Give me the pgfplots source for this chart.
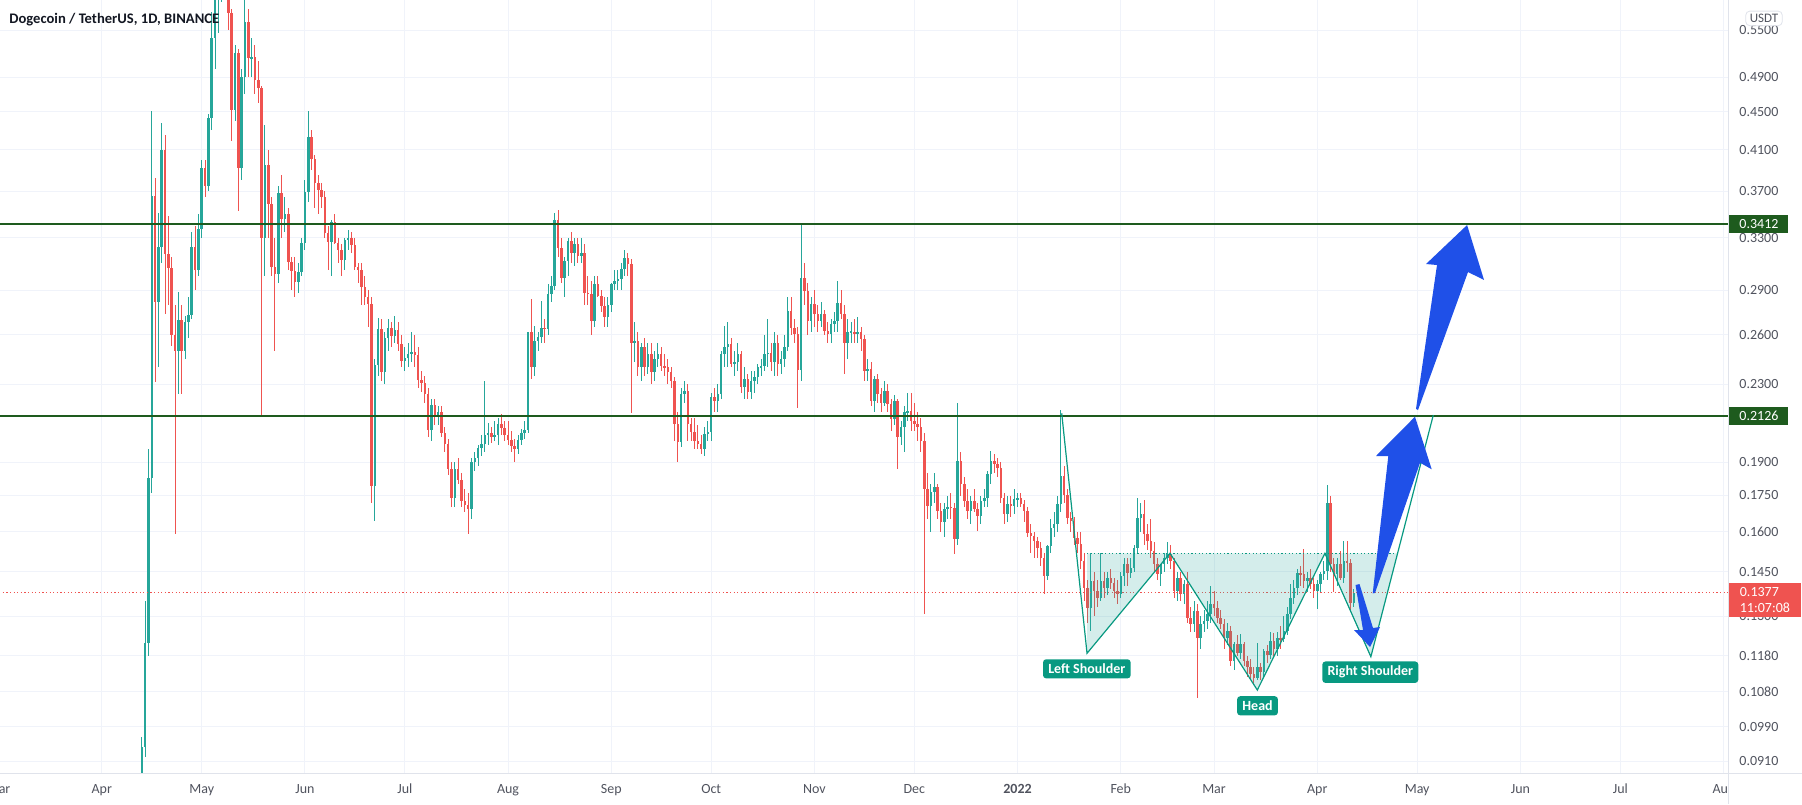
\documentclass[border=0pt]{standalone}
\usepackage{pgfplots}
\pgfplotsset{compat=1.18}
\usepackage{pgfplotstable}
\usepackage{fontspec}
\setmainfont{Carlito}
\definecolor{upc}{HTML}{26A69A}
\definecolor{dnc}{HTML}{EF5350}
\definecolor{lvl}{HTML}{1E5B1E}
\definecolor{gridc}{HTML}{F0F3FA}
\definecolor{axc}{HTML}{E0E3EB}
\definecolor{tickc}{HTML}{50535E}
\definecolor{patc}{HTML}{089981}
\definecolor{arrc}{HTML}{1F50E8}
\definecolor{titc}{HTML}{131722}

\pgfplotstableread{
d o h l c
12 0.0820 0.0965 0.0800 0.0942
13 0.0942 0.1350 0.0920 0.1217
14 0.1217 0.1960 0.1180 0.1827
15 0.1827 0.4505 0.1760 0.3658
16 0.3658 0.3827 0.2312 0.2815
17 0.2815 0.3510 0.2400 0.3227
18 0.3227 0.4376 0.3100 0.4096
19 0.4096 0.4250 0.2736 0.3170
20 0.3170 0.3480 0.2800 0.3060
21 0.3060 0.3150 0.2530 0.2600
22 0.2600 0.2800 0.1593 0.2498
23 0.2498 0.2890 0.2248 0.2693
24 0.2693 0.2800 0.2245 0.2498
25 0.2498 0.2720 0.2450 0.2681
26 0.2681 0.2850 0.2580 0.2730
27 0.2730 0.3350 0.2700 0.3227
28 0.3227 0.3400 0.2900 0.3047
29 0.3047 0.3500 0.3000 0.3370
30 0.3370 0.4000 0.3300 0.3920
31 0.3920 0.4000 0.3650 0.3750
32 0.3750 0.4480 0.3700 0.4428
33 0.4428 0.5750 0.4300 0.5390
34 0.5390 0.6300 0.5000 0.6000
35 0.6000 0.6600 0.5460 0.6200
36 0.6200 0.7000 0.5900 0.6800
37 0.6800 0.7400 0.6000 0.6600
38 0.6600 0.6700 0.5500 0.5735
39 0.5735 0.5800 0.4190 0.4520
40 0.4520 0.5300 0.4400 0.5200
41 0.5200 0.5250 0.3525 0.3920
42 0.3920 0.5000 0.3800 0.4905
43 0.4905 0.5930 0.4700 0.5616
44 0.5616 0.5800 0.4900 0.5131
45 0.5131 0.5400 0.4900 0.5153
46 0.5153 0.5300 0.4700 0.4866
47 0.4866 0.5100 0.4600 0.4767
48 0.4767 0.4800 0.2130 0.3295
49 0.3295 0.4360 0.3000 0.3950
50 0.3950 0.4100 0.3300 0.3590
51 0.3590 0.3650 0.3000 0.3070
52 0.3070 0.3300 0.2500 0.3020
53 0.3020 0.3750 0.2950 0.3685
54 0.3685 0.3850 0.3300 0.3460
55 0.3460 0.3650 0.3350 0.3500
56 0.3500 0.3550 0.3050 0.3110
57 0.3110 0.3150 0.2900 0.3040
58 0.3040 0.3150 0.2850 0.2960
59 0.2960 0.3100 0.2880 0.3030
60 0.3030 0.3300 0.3000 0.3255
61 0.3255 0.3800 0.3200 0.3696
62 0.3696 0.4505 0.3600 0.4232
63 0.4232 0.4300 0.3900 0.4010
64 0.4010 0.4050 0.3550 0.3773
65 0.3773 0.3850 0.3500 0.3711
66 0.3711 0.3780 0.3550 0.3650
67 0.3650 0.3700 0.3300 0.3336
68 0.3336 0.3400 0.3050 0.3268
69 0.3268 0.3450 0.3000 0.3433
70 0.3433 0.3500 0.3250 0.3255
71 0.3255 0.3300 0.3100 0.3202
72 0.3202 0.3250 0.3000 0.3124
73 0.3124 0.3300 0.3050 0.3282
74 0.3282 0.3360 0.3200 0.3300
75 0.3300 0.3350 0.3180 0.3241
76 0.3241 0.3300 0.3050 0.3073
77 0.3073 0.3100 0.2950 0.3048
78 0.3048 0.3100 0.2800 0.2925
79 0.2925 0.3000 0.2800 0.2854
80 0.2854 0.2900 0.2650 0.2802
81 0.2802 0.2850 0.1720 0.1790
82 0.1790 0.2450 0.1644 0.2412
83 0.2412 0.2710 0.2350 0.2634
84 0.2634 0.2700 0.2320 0.2374
85 0.2374 0.2620 0.2300 0.2577
86 0.2577 0.2700 0.2500 0.2645
87 0.2645 0.2680 0.2520 0.2594
88 0.2594 0.2720 0.2550 0.2630
89 0.2630 0.2680 0.2500 0.2538
90 0.2538 0.2600 0.2400 0.2435
91 0.2435 0.2520 0.2380 0.2455
92 0.2455 0.2550 0.2400 0.2477
93 0.2477 0.2620 0.2430 0.2490
94 0.2490 0.2600 0.2400 0.2470
95 0.2470 0.2520 0.2280 0.2326
96 0.2326 0.2380 0.2260 0.2306
97 0.2306 0.2350 0.2200 0.2248
98 0.2248 0.2280 0.2020 0.2058
99 0.2058 0.2220 0.2000 0.2189
100 0.2189 0.2220 0.2080 0.2131
101 0.2131 0.2180 0.2080 0.2150
102 0.2150 0.2180 0.2020 0.2040
103 0.2040 0.2070 0.1950 0.1985
104 0.1985 0.2010 0.1840 0.1867
105 0.1867 0.1900 0.1700 0.1740
106 0.1740 0.1900 0.1700 0.1867
107 0.1867 0.1920 0.1800 0.1820
108 0.1820 0.1850 0.1700 0.1725
109 0.1725 0.1780 0.1680 0.1708
110 0.1708 0.1760 0.1593 0.1694
111 0.1694 0.1920 0.1650 0.1901
112 0.1901 0.1950 0.1860 0.1917
113 0.1917 0.1980 0.1880 0.1969
114 0.1969 0.2030 0.1930 0.1986
115 0.1986 0.2320 0.1950 0.2030
116 0.2030 0.2090 0.1980 0.2039
117 0.2039 0.2070 0.1990 0.2021
118 0.2021 0.2100 0.2000 0.2030
119 0.2030 0.2120 0.1980 0.2085
120 0.2085 0.2140 0.2030 0.2067
121 0.2067 0.2100 0.2000 0.2030
122 0.2030 0.2100 0.1980 0.2004
123 0.2004 0.2050 0.1950 0.1975
124 0.1975 0.2010 0.1900 0.1960
125 0.1960 0.2030 0.1940 0.2004
126 0.2004 0.2060 0.1980 0.2039
127 0.2039 0.2100 0.2010 0.2058
128 0.2058 0.2620 0.2040 0.2614
129 0.2614 0.2837 0.2330 0.2400
130 0.2400 0.2657 0.2350 0.2561
131 0.2561 0.2620 0.2500 0.2582
132 0.2582 0.2826 0.2550 0.2646
133 0.2646 0.2700 0.2550 0.2635
134 0.2635 0.2944 0.2600 0.2872
135 0.2872 0.3000 0.2820 0.2932
136 0.2932 0.3510 0.2900 0.3450
137 0.3450 0.3530 0.3150 0.3222
138 0.3222 0.3300 0.2950 0.2992
139 0.2992 0.3150 0.2850 0.3118
140 0.3118 0.3300 0.3000 0.3275
141 0.3275 0.3350 0.3100 0.3182
142 0.3182 0.3300 0.3080 0.3250
143 0.3250 0.3300 0.3100 0.3156
144 0.3156 0.3300 0.3100 0.3182
145 0.3182 0.3250 0.2800 0.2884
146 0.2884 0.3000 0.2800 0.2872
147 0.2872 0.2970 0.2600 0.2690
148 0.2690 0.3000 0.2650 0.2944
149 0.2944 0.3000 0.2850 0.2861
150 0.2861 0.2900 0.2750 0.2791
151 0.2791 0.2850 0.2650 0.2712
152 0.2712 0.2850 0.2650 0.2800
153 0.2800 0.2950 0.2750 0.2944
154 0.2944 0.3050 0.2900 0.2968
155 0.2968 0.3050 0.2900 0.2980
156 0.2980 0.3100 0.2900 0.3054
157 0.3054 0.3200 0.3000 0.3143
158 0.3143 0.3180 0.3000 0.3092
159 0.3092 0.3130 0.2143 0.2550
160 0.2550 0.2680 0.2430 0.2561
161 0.2561 0.2620 0.2350 0.2398
162 0.2398 0.2550 0.2320 0.2519
163 0.2519 0.2580 0.2350 0.2398
164 0.2398 0.2550 0.2360 0.2478
165 0.2478 0.2550 0.2300 0.2369
166 0.2369 0.2500 0.2320 0.2448
167 0.2448 0.2550 0.2400 0.2478
168 0.2478 0.2520 0.2380 0.2408
169 0.2408 0.2480 0.2350 0.2398
170 0.2398 0.2450 0.2300 0.2369
171 0.2369 0.2400 0.2280 0.2321
172 0.2321 0.2340 0.2000 0.2086
173 0.2086 0.2150 0.1900 0.1994
174 0.1994 0.2280 0.1970 0.2246
175 0.2246 0.2320 0.2200 0.2264
176 0.2264 0.2300 0.2000 0.2086
177 0.2086 0.2120 0.2000 0.2044
178 0.2044 0.2120 0.1960 0.2002
179 0.2002 0.2080 0.1960 0.1986
180 0.1986 0.2030 0.1940 0.1962
181 0.1962 0.2070 0.1930 0.2035
182 0.2035 0.2100 0.2000 0.2044
183 0.2044 0.2250 0.2000 0.2228
184 0.2228 0.2280 0.2150 0.2209
185 0.2209 0.2300 0.2150 0.2246
186 0.2246 0.2500 0.2220 0.2478
187 0.2478 0.2657 0.2400 0.2519
188 0.2519 0.2680 0.2400 0.2540
189 0.2540 0.2580 0.2400 0.2418
190 0.2418 0.2500 0.2350 0.2428
191 0.2428 0.2550 0.2380 0.2478
192 0.2478 0.2500 0.2250 0.2283
193 0.2283 0.2400 0.2220 0.2330
194 0.2330 0.2360 0.2220 0.2255
195 0.2255 0.2380 0.2220 0.2321
196 0.2321 0.2380 0.2250 0.2340
197 0.2340 0.2420 0.2300 0.2398
198 0.2398 0.2450 0.2350 0.2408
199 0.2408 0.2600 0.2380 0.2478
200 0.2478 0.2700 0.2400 0.2488
201 0.2488 0.2550 0.2380 0.2428
202 0.2428 0.2620 0.2350 0.2550
203 0.2550 0.2600 0.2350 0.2418
204 0.2418 0.2500 0.2360 0.2448
205 0.2448 0.2600 0.2400 0.2519
206 0.2519 0.2849 0.2500 0.2757
207 0.2757 0.2850 0.2600 0.2646
208 0.2646 0.2700 0.2550 0.2603
209 0.2603 0.2650 0.2173 0.2383
210 0.2383 0.3412 0.2320 0.2992
211 0.2992 0.3100 0.2800 0.2896
212 0.2896 0.2950 0.2600 0.2690
213 0.2690 0.2850 0.2620 0.2802
214 0.2802 0.2900 0.2650 0.2734
215 0.2734 0.2800 0.2620 0.2690
216 0.2690 0.2820 0.2650 0.2734
217 0.2734 0.2760 0.2600 0.2624
218 0.2624 0.2680 0.2550 0.2603
219 0.2603 0.2700 0.2550 0.2668
220 0.2668 0.2750 0.2620 0.2690
221 0.2690 0.2968 0.2620 0.2814
222 0.2814 0.2900 0.2700 0.2734
223 0.2734 0.2800 0.2359 0.2550
224 0.2550 0.2700 0.2450 0.2614
225 0.2614 0.2680 0.2550 0.2620
226 0.2620 0.2700 0.2550 0.2603
227 0.2603 0.2712 0.2550 0.2614
228 0.2614 0.2650 0.2500 0.2571
229 0.2571 0.2600 0.2320 0.2379
230 0.2379 0.2450 0.2320 0.2388
231 0.2388 0.2430 0.2180 0.2210
232 0.2210 0.2350 0.2150 0.2330
233 0.2330 0.2360 0.2200 0.2246
234 0.2246 0.2280 0.2150 0.2200
235 0.2200 0.2320 0.2180 0.2264
236 0.2264 0.2300 0.2150 0.2191
237 0.2191 0.2220 0.2050 0.2112
238 0.2112 0.2240 0.2080 0.2209
239 0.2209 0.2220 0.1867 0.2019
240 0.2019 0.2100 0.1980 0.2069
241 0.2069 0.2180 0.1950 0.2147
242 0.2147 0.2250 0.2100 0.2155
243 0.2155 0.2250 0.2050 0.2103
244 0.2103 0.2200 0.2050 0.2086
245 0.2086 0.2150 0.2000 0.2069
246 0.2069 0.2120 0.1950 0.2002
247 0.2002 0.2040 0.1307 0.1778
248 0.1778 0.1850 0.1650 0.1706
249 0.1706 0.1800 0.1600 0.1763
250 0.1763 0.1850 0.1720 0.1785
251 0.1785 0.1800 0.1650 0.1685
252 0.1685 0.1720 0.1600 0.1638
253 0.1638 0.1720 0.1580 0.1692
254 0.1692 0.1750 0.1650 0.1700
255 0.1700 0.1760 0.1650 0.1699
256 0.1699 0.1720 0.1515 0.1572
257 0.1572 0.2197 0.1550 0.1905
258 0.1905 0.1950 0.1750 0.1799
259 0.1799 0.1830 0.1700 0.1726
260 0.1726 0.1780 0.1650 0.1684
261 0.1684 0.1750 0.1630 0.1726
262 0.1726 0.1780 0.1680 0.1691
263 0.1691 0.1720 0.1603 0.1664
264 0.1664 0.1750 0.1630 0.1726
265 0.1726 0.1780 0.1700 0.1740
266 0.1740 0.1860 0.1700 0.1843
267 0.1843 0.1952 0.1800 0.1905
268 0.1905 0.1940 0.1850 0.1889
269 0.1889 0.1920 0.1830 0.1874
270 0.1874 0.1900 0.1720 0.1740
271 0.1740 0.1760 0.1630 0.1670
272 0.1670 0.1750 0.1640 0.1712
273 0.1712 0.1750 0.1660 0.1705
274 0.1705 0.1780 0.1670 0.1733
275 0.1733 0.1760 0.1700 0.1740
276 0.1740 0.1760 0.1700 0.1712
277 0.1712 0.1730 0.1640 0.1684
278 0.1684 0.1700 0.1580 0.1597
279 0.1597 0.1630 0.1520 0.1583
280 0.1583 0.1600 0.1500 0.1564
281 0.1564 0.1580 0.1500 0.1539
282 0.1539 0.1560 0.1470 0.1502
283 0.1502 0.1520 0.1372 0.1435
284 0.1435 0.1550 0.1420 0.1545
285 0.1545 0.1650 0.1520 0.1617
286 0.1617 0.1680 0.1580 0.1630
287 0.1630 0.1750 0.1600 0.1712
288 0.1712 0.2160 0.1680 0.1836
289 0.1836 0.1880 0.1720 0.1754
290 0.1754 0.1780 0.1630 0.1657
291 0.1657 0.1680 0.1600 0.1643
292 0.1643 0.1660 0.1550 0.1577
293 0.1577 0.1600 0.1520 0.1555
294 0.1555 0.1600 0.1460 0.1489
295 0.1489 0.1520 0.1350 0.1395
296 0.1395 0.1420 0.1280 0.1328
297 0.1328 0.1520 0.1253 0.1418
298 0.1418 0.1450 0.1300 0.1383
299 0.1383 0.1420 0.1330 0.1361
300 0.1361 0.1520 0.1350 0.1418
301 0.1418 0.1450 0.1360 0.1395
302 0.1395 0.1450 0.1370 0.1429
303 0.1429 0.1460 0.1390 0.1412
304 0.1412 0.1430 0.1360 0.1383
305 0.1383 0.1420 0.1340 0.1372
306 0.1372 0.1450 0.1360 0.1435
307 0.1435 0.1500 0.1400 0.1477
308 0.1477 0.1500 0.1400 0.1447
309 0.1447 0.1500 0.1430 0.1465
310 0.1465 0.1550 0.1450 0.1539
311 0.1539 0.1740 0.1520 0.1657
312 0.1657 0.1720 0.1600 0.1670
313 0.1670 0.1730 0.1550 0.1590
314 0.1590 0.1630 0.1530 0.1564
315 0.1564 0.1650 0.1500 0.1526
316 0.1526 0.1560 0.1450 0.1477
317 0.1477 0.1500 0.1420 0.1441
318 0.1441 0.1480 0.1400 0.1477
319 0.1477 0.1520 0.1450 0.1502
320 0.1502 0.1560 0.1480 0.1514
321 0.1514 0.1550 0.1460 0.1489
322 0.1489 0.1500 0.1360 0.1383
323 0.1383 0.1450 0.1350 0.1429
324 0.1429 0.1450 0.1350 0.1372
325 0.1372 0.1420 0.1340 0.1406
326 0.1406 0.1450 0.1280 0.1295
327 0.1295 0.1330 0.1250 0.1274
328 0.1274 0.1350 0.1250 0.1317
329 0.1317 0.1340 0.1064 0.1233
330 0.1233 0.1300 0.1200 0.1274
331 0.1274 0.1320 0.1250 0.1285
332 0.1285 0.1350 0.1260 0.1306
333 0.1306 0.1400 0.1280 0.1339
334 0.1339 0.1383 0.1300 0.1328
335 0.1328 0.1350 0.1280 0.1295
336 0.1295 0.1320 0.1260 0.1274
337 0.1274 0.1290 0.1200 0.1233
338 0.1233 0.1280 0.1210 0.1253
339 0.1253 0.1270 0.1150 0.1164
340 0.1164 0.1220 0.1140 0.1213
341 0.1213 0.1240 0.1180 0.1188
342 0.1188 0.1244 0.1170 0.1213
343 0.1213 0.1220 0.1150 0.1164
344 0.1164 0.1180 0.1120 0.1146
345 0.1146 0.1170 0.1110 0.1127
346 0.1127 0.1146 0.1100 0.1118
347 0.1118 0.1218 0.1110 0.1146
348 0.1146 0.1160 0.1110 0.1132
349 0.1132 0.1200 0.1120 0.1193
350 0.1193 0.1210 0.1160 0.1183
351 0.1183 0.1250 0.1170 0.1223
352 0.1223 0.1248 0.1180 0.1198
353 0.1198 0.1250 0.1180 0.1233
354 0.1233 0.1270 0.1200 0.1228
355 0.1228 0.1300 0.1220 0.1253
356 0.1253 0.1330 0.1240 0.1306
357 0.1306 0.1406 0.1290 0.1361
358 0.1361 0.1420 0.1340 0.1395
359 0.1395 0.1460 0.1370 0.1447
360 0.1447 0.1470 0.1400 0.1441
361 0.1441 0.1533 0.1395 0.1418
362 0.1418 0.1450 0.1380 0.1429
363 0.1429 0.1460 0.1390 0.1406
364 0.1406 0.1430 0.1360 0.1383
365 0.1383 0.1420 0.1322 0.1406
366 0.1406 0.1450 0.1380 0.1441
367 0.1441 0.1490 0.1420 0.1453
368 0.1453 0.1798 0.1420 0.1719
369 0.1719 0.1747 0.1450 0.1477
370 0.1477 0.1500 0.1380 0.1441
371 0.1441 0.1500 0.1400 0.1477
372 0.1477 0.1526 0.1420 0.1429
373 0.1429 0.1564 0.1410 0.1489
374 0.1489 0.1564 0.1450 0.1482
375 0.1482 0.1495 0.1320 0.1343
376 0.1343 0.1390 0.1330 0.1377
}\candles

\pgfplotsset{
  tvaxis/.style={
    at={(-4.045pt,0pt)}, anchor=north west,
    scale only axis, width=868.045pt, height=386.5pt,
    xmin=-33, xmax=488.35, ymin=-2.42603, ymax=-0.5235,
    axis line style={draw=none}, tick style={draw=none},
    ytick={-2.39690,-2.31264,-2.22562,-2.13707,-2.04022,-1.93102,-1.83258,-1.74297,-1.66073,-1.46968,-1.34707,-1.23787,-1.10866,-0.99425,-0.89160,-0.79851,-0.71335,-0.59784},
  },
  wick/.style={draw=none, no markers, forget plot,
    error bars/.cd, y dir=both, y explicit, error mark=none,
    error bar style={draw=#1, line width=0.5pt}},
  body/.style={draw=none, no markers, forget plot,
    error bars/.cd, y dir=both, y explicit, error mark=none,
    error bar style={draw=#1, line width=1.25pt}},
}

\begin{document}
\begin{tikzpicture}[x=1pt,y=1pt]
\useasboundingbox (0,0) rectangle (901,-402);
\begin{axis}[tvaxis,
  xtick={-31,0,30,61,91,122,153,183,214,244,275,306,334,365,395,426,456,487},
  xticklabels={Mar,Apr,May,Jun,Jul,Aug,Sep,Oct,Nov,Dec,\textbf{2022},Feb,Mar,Apr,May,Jun,Jul,Aug},
  xticklabel style={anchor=base, yshift=-10pt, inner sep=0pt, font=\fontsize{7}{8}\selectfont, text=tickc},
  yticklabel=\empty,
  grid=major, major grid style={draw=gridc, line width=0.5pt},
]
% wicks
\addplot[wick=upc] table[x=d,
  y expr={\thisrow{c}>=\thisrow{o} ? 0.5*(ln(\thisrow{h})+ln(\thisrow{l})) : nan},
  y error expr={0.5*(ln(\thisrow{h})-ln(\thisrow{l}))}] {\candles};
\addplot[wick=dnc] table[x=d,
  y expr={\thisrow{c}<\thisrow{o} ? 0.5*(ln(\thisrow{h})+ln(\thisrow{l})) : nan},
  y error expr={0.5*(ln(\thisrow{h})-ln(\thisrow{l}))}] {\candles};
% bodies
\addplot[body=upc] table[x=d,
  y expr={\thisrow{c}>=\thisrow{o} ? 0.5*(ln(\thisrow{o})+ln(\thisrow{c})) : nan},
  y error expr={max(0.5*abs(ln(\thisrow{c})-ln(\thisrow{o})),0.0015)}] {\candles};
\addplot[body=dnc] table[x=d,
  y expr={\thisrow{c}<\thisrow{o} ? 0.5*(ln(\thisrow{o})+ln(\thisrow{c})) : nan},
  y error expr={max(0.5*abs(ln(\thisrow{c})-ln(\thisrow{o})),0.0015)}] {\candles};

% horizontal levels
\addplot[forget plot, lvl, line width=1pt] coordinates {(-33,-1.07529) (488.35,-1.07529)};
\addplot[forget plot, lvl, line width=1pt] coordinates {(-33,-1.54835) (488.35,-1.54835)};
\addplot[forget plot, dnc, line width=0.5pt, dash pattern=on 0.6pt off 1.2pt] coordinates {(-33,-1.98269) (488.35,-1.98269)};

% head and shoulders
\fill[upc, fill opacity=0.2] (axis cs:295.86,-1.8853) -- (axis cs:295.86,-2.1314) -- (axis cs:320.78,-1.8853) -- cycle;
\fill[upc, fill opacity=0.2] (axis cs:320.78,-1.8853) -- (axis cs:347.0,-2.2218) -- (axis cs:367.3,-1.8853) -- cycle;
\fill[upc, fill opacity=0.2] (axis cs:367.3,-1.8853) -- (axis cs:381.1,-2.1398) -- (axis cs:389.1,-1.8853) -- cycle;
\addplot[forget plot, patc, line width=0.5pt, dash pattern=on 0.6pt off 1.2pt] coordinates {(295.86,-1.8853) (389.1,-1.8853)};
\addplot[forget plot, patc, line width=0.6pt] coordinates {(288.26,-1.5407) (295.86,-2.1314) (320.78,-1.8853) (347.0,-2.2218) (367.3,-1.8853) (381.1,-2.1398) (399.85,-1.5449)};

% arrows
\fill[arrc] (axis cs:394.65,-1.5301) -- (axis cs:400.96,-1.1757) -- (axis cs:397.66,-1.1733) -- (axis cs:410.0,-1.0773) -- (axis cs:415.08,-1.2126) -- (axis cs:410.27,-1.1930) -- (axis cs:395.26,-1.5326) -- cycle;
\fill[arrc] (axis cs:381.65,-1.9838) -- (axis cs:386.34,-1.6458) -- (axis cs:382.64,-1.6458) -- (axis cs:394.35,-1.5491) -- (axis cs:399.37,-1.6786) -- (axis cs:395.86,-1.6623) -- (axis cs:382.34,-1.9830) -- cycle;
\fill[arrc] (axis cs:376.49,-1.9633) -- (axis cs:377.69,-1.9609) -- (axis cs:381.74,-2.0692) -- (axis cs:383.84,-2.0667) -- (axis cs:380.84,-2.1159) -- (axis cs:376.04,-2.0741) -- (axis cs:378.74,-2.0741) -- cycle;

% labels
\tikzset{hslab/.style={fill=patc, text=white, font=\bfseries\fontsize{7}{8}\selectfont, rounded corners=1.5pt, inner xsep=2.6pt, inner ysep=2.3pt}}
\node[hslab] at (axis cs:295.8,-2.1696) {Left Shoulder};
\node[hslab] at (axis cs:347.06,-2.2606) {Head};
\node[hslab] at (axis cs:380.93,-2.1779) {Right Shoulder};
\end{axis}

% right price panel
\fill[white] (864.25,1) rectangle (902,-403);
\begin{axis}[tvaxis,
  xtick=\empty,
  yticklabel pos=right,
  yticklabels={0.0910,0.0990,0.1080,0.1180,0.1300,0.1450,0.1600,0.1750,0.1900,0.2300,0.2600,0.2900,0.3300,0.3700,0.4100,0.4500,0.4900,0.5500},
  yticklabel style={anchor=west, xshift=5.5pt, inner sep=0pt, font=\fontsize{7}{8}\selectfont, text=tickc},
]
\addplot[draw=none, forget plot] coordinates {(0,-1)};
\end{axis}

% frame lines
\draw[axc, line width=0.5pt] (864,0) -- (864,-402);
\draw[axc, line width=0.5pt] (0,-386.5) -- (901,-386.5);

% price labels
\node[fill=lvl, text=white, anchor=west, inner xsep=5pt, inner ysep=0pt, minimum height=9pt, font=\fontsize{7}{8}\selectfont] at (864.5,-112.0) {0.3412};
\node[fill=lvl, text=white, anchor=west, inner xsep=5pt, inner ysep=0pt, minimum height=9pt, font=\fontsize{7}{8}\selectfont] at (864.5,-208.1) {0.2126};
\node[fill=dnc, text=white, anchor=north west, inner xsep=5pt, inner ysep=2.2pt, align=left, minimum width=36pt, font=\fontsize{7}{8}\selectfont] at (864.25,-291.5) {0.1377\\11:07:08};
\node[draw=axc, fill=white, rounded corners=2pt, text=tickc, inner xsep=2pt, inner ysep=1.5pt, font=\fontsize{6.5}{7}\selectfont] at (882,-9.2) {USDT};

% title
\node[anchor=base west, inner sep=0pt, text=titc, font=\bfseries\fontsize{7.3}{8}\selectfont] at (4.5,-11.6) {Dogecoin / TetherUS, 1D, BINANCE};
\end{tikzpicture}
\end{document}
